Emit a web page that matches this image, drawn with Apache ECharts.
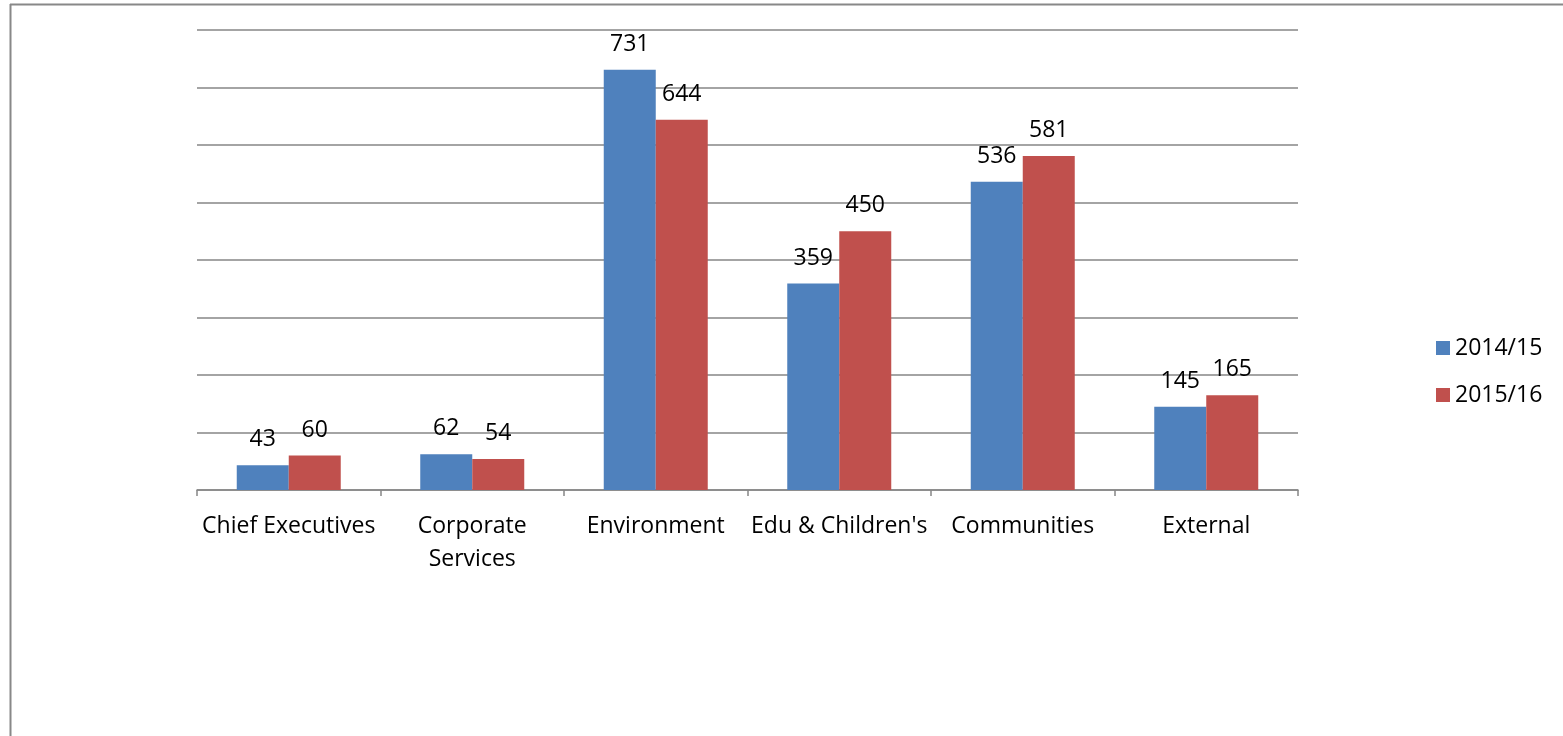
<!DOCTYPE html>
<html>
<head>
<meta charset="utf-8">
<script src="https://cdn.jsdelivr.net/npm/echarts@6/dist/echarts.min.js"></script>
<style>
html,body{margin:0;padding:0;background:#fff;}
#chart{width:1563px;height:736px;}
</style>
</head>
<body>
<div id="chart"></div>
<script>
const categories = ["Chief Executives", "Corporate\nServices", "Environment", "Edu & Children's", "Communities", "External"];
const series2014 = [43, 62, 731, 359, 536, 145];
const series2015 = [60, 54, 644, 450, 581, 165];
const seriesNames = ["2014/15", "2015/16"];

const chart = echarts.init(document.getElementById('chart'), null, {renderer: 'canvas'});
const fontFamily = "'Open Sans', 'Noto Sans', sans-serif";
const labelStyle = {
  show: true, position: 'top', distance: 14,
  color: '#000', fontSize: 23, fontFamily: fontFamily
};
chart.setOption({
  animation: false,
  backgroundColor: '#fff',
  graphic: [
    {type: 'line', shape: {x1: 10, y1: 4.5, x2: 1563, y2: 4.5}, style: {stroke: '#888', lineWidth: 2}},
    {type: 'line', shape: {x1: 10.5, y1: 4, x2: 10.5, y2: 736}, style: {stroke: '#888', lineWidth: 2}}
  ],
  grid: {left: 197, right: 265, top: 30, bottom: 246, containLabel: false},
  legend: {
    orient: 'vertical', left: 1431, top: 331,
    itemWidth: 14, itemHeight: 14, itemGap: 23,
    icon: 'rect',
    textStyle: {fontSize: 23, fontFamily: fontFamily, color: '#000', lineHeight: 24},
    data: seriesNames
  },
  xAxis: {
    type: 'category', data: categories,
    axisLine: {lineStyle: {color: '#868686', width: 1.5}},
    axisTick: {show: true, length: 6, lineStyle: {color: '#868686', width: 1.5}},
    axisLabel: {color: '#000', fontSize: 23, fontFamily: fontFamily, margin: 20, lineHeight: 33, interval: 0}
  },
  yAxis: {
    type: 'value', min: 0, max: 800, interval: 100,
    axisLine: {show: false}, axisTick: {show: false}, axisLabel: {show: false},
    splitLine: {lineStyle: {color: '#868686', width: 1.5}}
  },
  series: [
    {name: seriesNames[0], type: 'bar', data: series2014, barWidth: 52, barGap: '0%',
     itemStyle: {color: '#4F81BD'}, label: labelStyle},
    {name: seriesNames[1], type: 'bar', data: series2015, barWidth: 52, barGap: '0%',
     itemStyle: {color: '#C0504D'}, label: labelStyle}
  ]
});
</script>
</body>
</html>
